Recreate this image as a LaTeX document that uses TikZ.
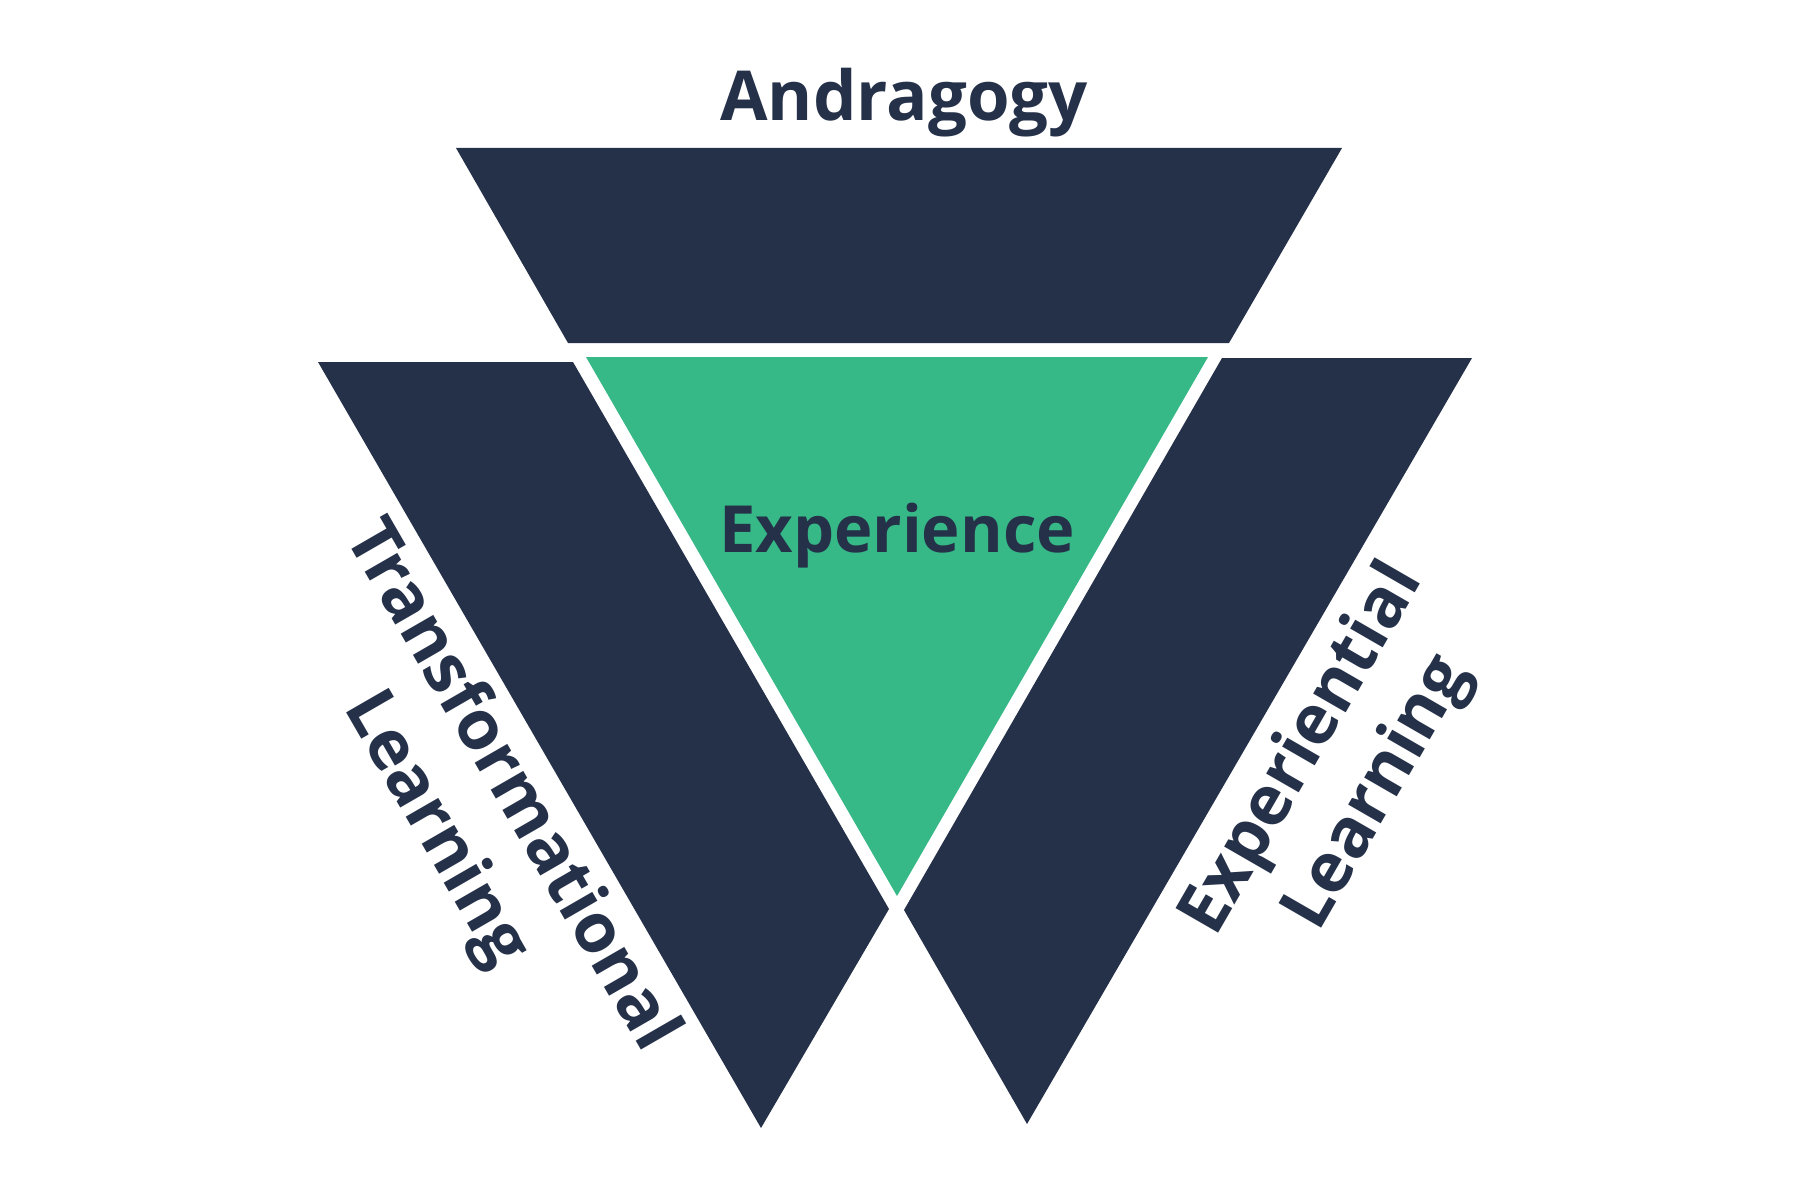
\documentclass[tikz,border=0pt]{standalone}
\usepackage{fontspec}
\setmainfont{Open Sans}
\usepackage{tikz}
\definecolor{navy}{HTML}{253149}
\definecolor{mint}{HTML}{36B987}
\tikzset{every node/.style={text=navy,inner sep=0pt,outer sep=0pt},
  slab/.style={fill=navy},
  core/.style={fill=mint},
  title/.style={font=\fT},
  side/.style={font=\fS,align=center}}
\newcommand{\fT}{\fontsize{19.6}{24}\selectfont\bfseries}
\newcommand{\fC}{\fontsize{18.5}{24}\selectfont\bfseries}
\newcommand{\fS}{\fontsize{19.6}{24.7}\selectfont\bfseries}

\begin{document}
\begin{tikzpicture}[x=0.1mm,y=-0.1mm]
  \path[use as bounding box] (0,0) rectangle (1800,1200);

  % Three dark slabs round the core
  \fill[slab] (456,148) -- (1342,148) -- (1229,343) -- (568,343) -- cycle;
  \fill[slab] (318,362) -- (573,362) -- (889,909) -- (761,1128) -- cycle;
  \fill[slab] (1222,358) -- (1472,358) -- (1027,1124) -- (904,910) -- cycle;

  % Core triangle
  \fill[core] (586,357) -- (1208,357) -- (897,896) -- cycle;

  % Labels
  \node[title,anchor=base] (andr) at (904,121) {Andragogy};
  \node[title,anchor=base,font=\fC] (expc) at (897,552) {Experience};
  \node[side,rotate=-60] (trans) at (472,808) {Transformational\\Learning};
  \node[side,rotate=60] (expl) at (1341,772) {Experiential\\Learning};
\end{tikzpicture}
\end{document}
